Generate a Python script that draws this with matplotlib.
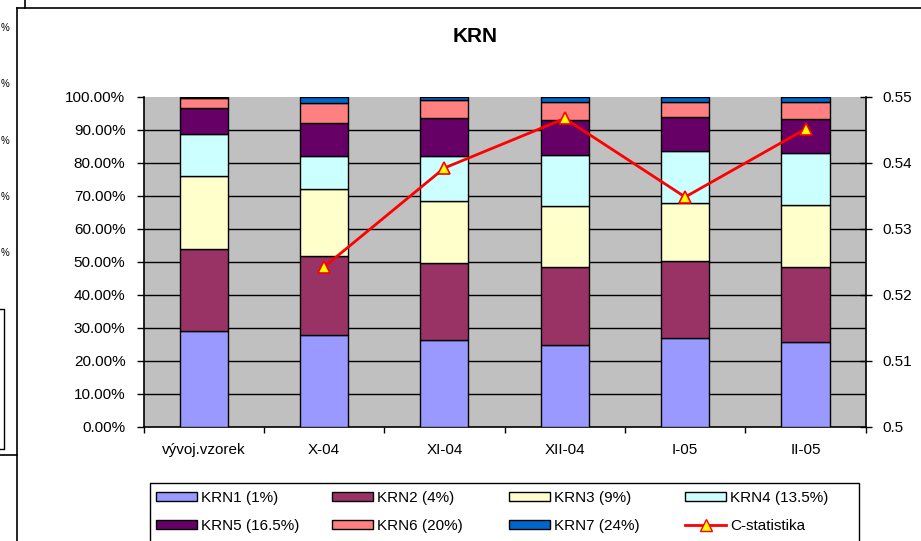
import numpy as np
import matplotlib
matplotlib.use("Agg")
import matplotlib.pyplot as plt
from matplotlib.patches import Rectangle, Patch
from matplotlib.lines import Line2D
from matplotlib.ticker import PercentFormatter, FixedLocator, FuncFormatter

plt.rcParams["font.family"] = ["Liberation Sans", "DejaVu Sans"]

# data (shares in %)
categories = ["vývoj.vzorek", "X-04", "XI-04", "XII-04", "I-05", "II-05"]
krn1 = [28.9, 27.9, 26.3, 24.7, 26.9, 25.7]
krn2 = [25.0, 23.8, 23.2, 23.8, 23.4, 22.8]
krn3 = [22.1, 20.3, 18.9, 18.5, 17.5, 18.8]
krn4 = [12.7, 10.0, 13.6, 15.4, 15.8, 15.5]
krn5 = [7.8, 9.9, 11.5, 10.5, 10.1, 10.4]
krn6 = [3.0, 6.1, 5.5, 5.6, 4.8, 5.3]
krn7 = [0.5, 2.0, 1.0, 1.5, 1.5, 1.5]
c_stat = [np.nan, 0.5242, 0.5392, 0.5467, 0.5348, 0.5451]

series_labels = ["KRN1 (1%)", "KRN2 (4%)", "KRN3 (9%)", "KRN4 (13.5%)",
                 "KRN5 (16.5%)", "KRN6 (20%)", "KRN7 (24%)"]
series_colors = ["#9999FF", "#993366", "#FFFFCC", "#CCFFFF",
                 "#660066", "#FF8080", "#0066CC"]

W, H = 921, 541


def fx(px):
    return px / W


def fy(py):
    return 1 - py / H


fig = plt.figure(figsize=(W / 100, H / 100), dpi=100)

# plot area
left, right, top, bottom = 143.5, 865.7, 96.7, 426.7
ax = fig.add_axes([fx(left), fy(bottom), fx(right) - fx(left), (bottom - top) / H])
ax.set_facecolor("#C0C0C0")

x = np.arange(len(categories))
base = np.zeros(len(categories))
for vals, lab, col in zip([krn1, krn2, krn3, krn4, krn5, krn6, krn7],
                          series_labels, series_colors):
    v = np.array(vals) / 100
    ax.bar(x, v, 0.4, bottom=base, color=col, edgecolor="black",
           linewidth=1, label=lab, zorder=3)
    base += v

ax.set_xlim(-0.5, len(categories) - 0.5)
ax.set_ylim(0, 1)
ax.set_yticks(np.arange(0, 1.01, 0.1))
ax.yaxis.set_major_formatter(PercentFormatter(xmax=1, decimals=2))
for yv in np.arange(0.1, 0.95, 0.1):
    ax.axhline(yv, color="black", linewidth=1, zorder=1)

# x ticks at category borders, labels in the middle
ax.xaxis.set_major_locator(FixedLocator(np.arange(-0.5, len(categories), 1)))
ax.xaxis.set_major_formatter(FuncFormatter(lambda v, p: ""))
ax.set_xticks(x, minor=True)
ax.set_xticklabels(categories, minor=True)
ax.tick_params(axis="x", which="minor", length=0, pad=12, labelsize=11)
ax.tick_params(axis="x", which="major", direction="out", length=4, width=1)
ax.tick_params(axis="y", direction="out", length=5, width=1, pad=8,
               labelsize=11)
ax.spines["top"].set_visible(False)
ax.spines["right"].set_visible(False)
for s in ["left", "bottom"]:
    ax.spines[s].set_linewidth(1.2)

# C-statistika on secondary axis
ax2 = ax.twinx()
ax2.plot(x, c_stat, color="#FF0000", linewidth=2, marker="^", markersize=9,
         markerfacecolor="#FFFF00", markeredgecolor="#FF0000",
         markeredgewidth=1.2, label="C-statistika", zorder=5)
ax2.set_ylim(0.5, 0.55)
ax2.set_yticks(np.arange(0.5, 0.5501, 0.01))
ax2.yaxis.set_major_formatter(FuncFormatter(lambda v, p: f"{v:.2f}".rstrip("0")))
ax2.tick_params(axis="y", direction="inout", length=8, width=1, pad=8,
                labelsize=11)
for s in ["top", "left", "bottom"]:
    ax2.spines[s].set_visible(False)
ax2.spines["right"].set_linewidth(1.2)

fig.text(fx(475), fy(37), "KRN", ha="center", va="center", fontsize=15,
         fontweight="bold")

# legend frame and four columns
fig.add_artist(Rectangle((fx(150), fy(560)), fx(859) - fx(150), (560 - 483) / H,
                         transform=fig.transFigure, fill=False,
                         edgecolor="black", linewidth=1))
handles = [Patch(facecolor=c, edgecolor="black", linewidth=1)
           for c in series_colors]
handles.append(Line2D([], [], color="#FF0000", linewidth=2, marker="^",
                      markersize=9, markerfacecolor="#FFFF00",
                      markeredgecolor="#FF0000"))
labels = series_labels + ["C-statistika"]
col_x = [156, 332, 509, 685]
for i, cx in enumerate(col_x):
    idx = [i, i + 4]
    fig.legend([handles[j] for j in idx], [labels[j] for j in idx],
               loc="upper left", bbox_to_anchor=(fx(cx), fy(491)),
               frameon=False, fontsize=11, handlelength=2.7,
               handleheight=0.6, handletextpad=0.25, labelspacing=0.9,
               borderpad=0, borderaxespad=0)

# chart frame and fragments of the neighbouring chart
fig.add_artist(Line2D([fx(17), 1], [fy(8), fy(8)], color="black", lw=1.2))
fig.add_artist(Line2D([fx(17), fx(17)], [fy(8), 0], color="black", lw=1.2))
fig.add_artist(Line2D([fx(25), fx(25)], [1, fy(8)], color="black", lw=1.2))
fig.add_artist(Line2D([0, fx(17)], [fy(455), fy(455)], color="black", lw=1.2))
fig.add_artist(Line2D([0, fx(4), fx(4), 0],
                      [fy(309), fy(309), fy(449), fy(449)], color="black", lw=1))
for yy in [28, 84, 141, 197, 253]:
    fig.text(fx(0.5), fy(yy), "%", ha="left", va="center", fontsize=7)

fig.savefig("out.png", dpi=100)
